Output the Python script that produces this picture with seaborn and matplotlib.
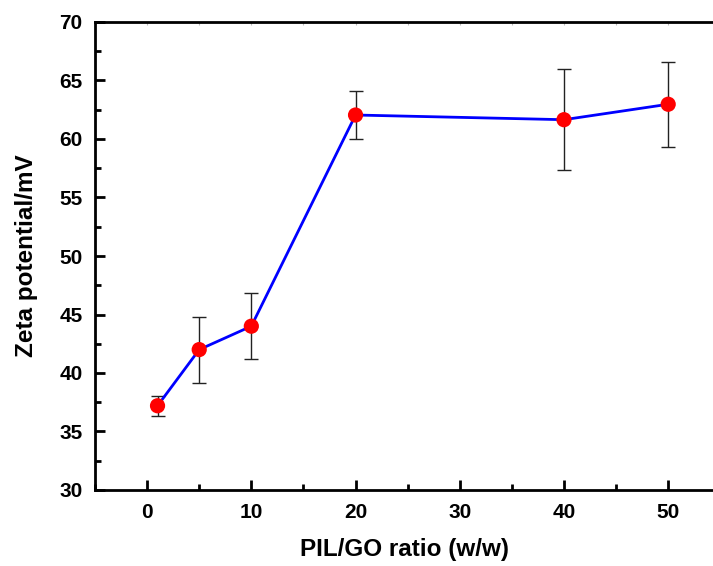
import matplotlib
matplotlib.use("Agg")
import matplotlib.pyplot as plt
from matplotlib.ticker import MultipleLocator
import pandas as pd
import seaborn as sns

ratio = [1, 5, 10, 20, 40, 50]
zeta = [37.2, 42.0, 44.0, 62.05, 61.65, 62.97]
zeta_err = [0.85, 2.82, 2.82, 2.05, 4.32, 3.62]

df = pd.DataFrame({"ratio": ratio, "zeta": zeta, "err": zeta_err})

sns.set_style("ticks")
plt.rcParams["font.family"] = ["Liberation Sans", "DejaVu Sans"]
plt.rcParams["font.weight"] = "bold"
plt.rcParams["text.color"] = "black"
plt.rcParams["axes.labelcolor"] = "black"
plt.rcParams["xtick.color"] = "black"
plt.rcParams["ytick.color"] = "black"
plt.rcParams["xtick.labelsize"] = 15
plt.rcParams["ytick.labelsize"] = 15

fig = plt.figure(figsize=(7.13, 5.66), dpi=100)
ax = fig.add_axes([95 / 713, 1 - 490 / 566, 1 - 95 / 713, 468 / 566])

ax.errorbar(df["ratio"], df["zeta"], yerr=df["err"], fmt="none",
            ecolor="#222222", elinewidth=1.0, capsize=5, capthick=1.0, zorder=2)
sns.lineplot(data=df, x="ratio", y="zeta", color="#0000ff", linewidth=2.0,
             ax=ax, zorder=3)
sns.scatterplot(data=df, x="ratio", y="zeta", color="#ff0000", s=120,
                edgecolor="none", ax=ax, zorder=4)

ax.set_xlim(-5, 54.3)
ax.set_ylim(30, 70)
ax.xaxis.set_major_locator(MultipleLocator(10))
ax.xaxis.set_minor_locator(MultipleLocator(5))
ax.yaxis.set_major_locator(MultipleLocator(5))
ax.yaxis.set_minor_locator(MultipleLocator(2.5))

ax.spines["right"].set_visible(False)
for s in ["left", "bottom", "top"]:
    ax.spines[s].set_linewidth(2.0)
    ax.spines[s].set_color("black")

ax.tick_params(which="major", direction="in", length=7, width=2.0,
               labelsize=15, pad=9, top=False, right=False, colors="black")
ax.tick_params(which="minor", direction="in", length=4, width=2.0,
               top=False, right=False, colors="black")

# faint ticks along the top frame
sec = ax.secondary_xaxis("top")
sec.set_xticks([0, 10, 20, 30, 40, 50])
sec.xaxis.set_minor_locator(MultipleLocator(5))
sec.tick_params(which="both", direction="in", length=2, width=0.8,
                colors="#bbbbbb", labeltop=False)
sec.spines["top"].set_visible(False)

for lbl in ax.get_xticklabels() + ax.get_yticklabels():
    lbl.set_fontweight("bold")
    lbl.set_fontsize(15)

ax.set_xlabel("PIL/GO ratio (w/w)", fontsize=17.5, fontweight="bold", labelpad=12)
ax.set_ylabel("Zeta potential/mV", fontsize=17.5, fontweight="bold", labelpad=15)

fig.savefig("out.png", dpi=100)
